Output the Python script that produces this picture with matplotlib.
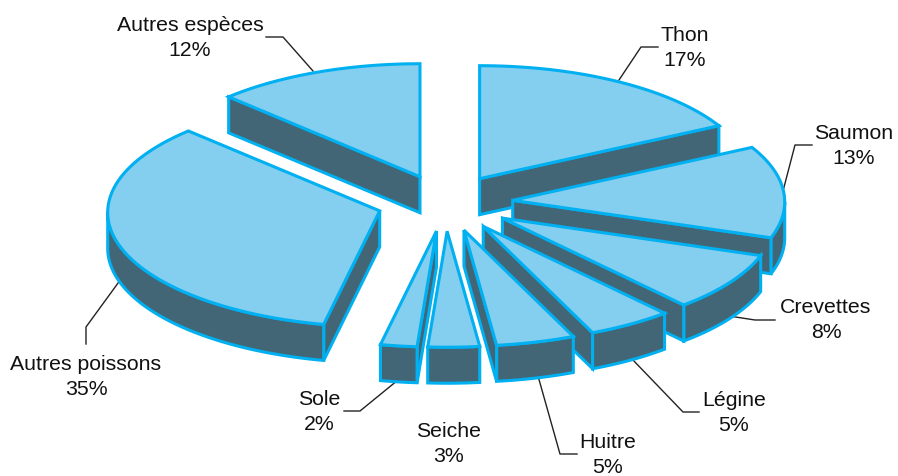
import matplotlib
matplotlib.use('Agg')
import matplotlib.pyplot as plt
import numpy as np

# Data
categories = ['Thon', 'Saumon', 'Crevettes', 'Légine', 'Huitre', 'Seiche', 'Sole',
              'Autres poissons', 'Autres espèces']
values = [17, 13, 8, 5, 5, 3, 2, 35, 12]

# Label centres and leader lines, in pixels of the figure
label_pos = [(685, 48), (854, 146), (826, 320), (734, 413), (608, 455),
             (449, 444), (319, 412), (86, 377), (190, 38)]
leaders = [
    [(619, 81), (641, 48), (658, 48)],
    [(783, 192), (795, 146), (812, 146)],
    [(729, 317), (755, 321), (775, 321)],
    [(632, 360), (683, 413), (699, 413)],
    [(538, 377), (560, 455), (577, 455)],
    None,
    [(398, 381), (360, 412), (344, 412)],
    [(121, 280), (86, 328), (86, 345)],
    [(313, 72), (283, 38), (266, 38)],
]

# Pie geometry
cx, cy = 445, 204
rx, ry = 272, 113
depth = 36
explode = 0.25
front_drop = 1.5

top_color = '#84CEF0'
side_color = '#436676'
edge_color = '#00B0F0'
edge_w = 2.2

# Small angle shift (degrees) standing in for the 3D perspective of the original
warp_at = [0, 60, 108, 137, 155, 173, 184, 191, 270, 317, 360]
warp_by = [0, 0.4, 0.3, 1.4, 1.5, 0.3, 0.5, 1.1, 0, -1.5, 0]


def slice_outline(start, end):
    """Apex and rim points of one exploded slice, on screen"""
    mid = (start + end) / 2
    ax_ = cx + explode * rx * np.sin(mid)
    ay_ = cy - explode * ry * np.cos(mid)
    t = np.linspace(start, end, max(int(np.degrees(end - start)), 2) + 1)
    t = t + np.radians(np.interp(np.degrees(t), warp_at, warp_by))
    xs = ax_ + rx * np.sin(t)
    ys = ay_ - ry * np.cos(t) + front_drop * (1 - np.cos(t))
    return np.r_[ax_, xs, ax_], np.r_[ay_, ys, ay_]


def draw_wall(xs, ys, z):
    """Extrude the part of an edge that runs right to left (faces the viewer)"""
    keep = np.zeros(len(xs), dtype=bool)
    going_left = np.diff(xs) < -1e-6
    keep[:-1] |= going_left
    keep[1:] |= going_left
    if keep.sum() < 2:
        return
    wx, wy = xs[keep], ys[keep]
    ax.fill(np.r_[wx, wx[::-1]], np.r_[wy, wy[::-1] + depth], facecolor=side_color,
            edgecolor=edge_color, lw=edge_w, joinstyle='miter', zorder=z)


fig = plt.figure(figsize=(8.98, 4.77), dpi=100)
ax = fig.add_axes([0, 0, 1, 1])
ax.set_xlim(0, 898)
ax.set_ylim(477, 0)
ax.axis('off')

bounds = np.cumsum([0] + values) / sum(values) * 2 * np.pi
outlines = [slice_outline(bounds[i], bounds[i + 1]) for i in range(len(values))]

# Paint from the back of the pie to the front
order = np.argsort([o[1].max() for o in outlines])
for n, i in enumerate(order):
    xs, ys = outlines[i]
    draw_wall(xs[:2], ys[:2], 2 + n)
    draw_wall(xs[1:-1], ys[1:-1], 2 + n)
    draw_wall(xs[-2:], ys[-2:], 2 + n)
    ax.fill(xs, ys, facecolor=top_color, edgecolor=edge_color, lw=edge_w,
            joinstyle='miter', zorder=2 + n)

for name, val, (lx, ly), line in zip(categories, values, label_pos, leaders):
    ax.text(lx, ly, f'{name}\n{val}%', ha='center', va='center', fontsize=15.3,
            family='Liberation Sans', color='#111111', linespacing=1.46, zorder=50)
    if line:
        ax.plot(*zip(*line), color='#222222', lw=1, zorder=1)

fig.savefig('out.png', dpi=100)
